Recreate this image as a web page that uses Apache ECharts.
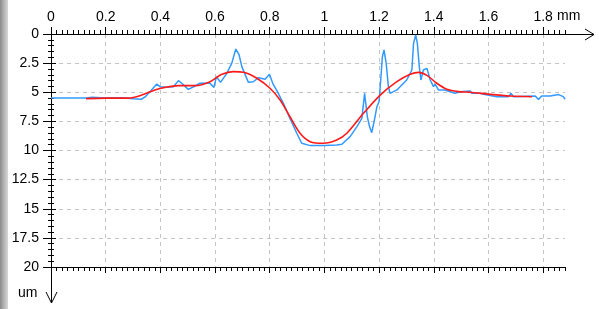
<!DOCTYPE html>
<html lang="en">
<head>
    <meta charset="UTF-8">
    <title>Profile</title>
    <script src="https://cdn.jsdelivr.net/npm/echarts@6/dist/echarts.min.js"></script>
    <style type="text/css">
        html, body { margin: 0; padding: 0; background: #fff; }
        #main { width: 599px; height: 309px; }
    </style>
</head>
<body>
<div id="main"></div>
<script type="text/javascript">
    // measured profile (blue), x in mm, depth in um
    var profileX = [0, 0.1, 0.13, 0.15, 0.2, 0.26, 0.3, 0.33, 0.344, 0.362, 0.387, 0.399, 0.417, 0.448, 0.466, 0.478,
        0.502, 0.52, 0.545, 0.58, 0.596, 0.605, 0.62, 0.643, 0.661, 0.676, 0.688, 0.698, 0.722, 0.74, 0.759, 0.783,
        0.799, 0.811, 0.828, 0.85, 0.874, 0.899, 0.917, 0.948, 1.0, 1.045, 1.064, 1.094, 1.119, 1.137, 1.147, 1.152,
        1.157, 1.165, 1.173, 1.183, 1.192, 1.2, 1.206, 1.212, 1.218, 1.226, 1.234, 1.24, 1.265, 1.301, 1.32, 1.326,
        1.334, 1.34, 1.347, 1.353, 1.362, 1.375, 1.387, 1.399, 1.405, 1.417, 1.44, 1.46, 1.478, 1.496, 1.533, 1.539,
        1.57, 1.582, 1.631, 1.674, 1.682, 1.692, 1.771, 1.783, 1.795, 1.826, 1.856, 1.874, 1.88];
    var profileY = [5.5, 5.5, 5.5, 5.42, 5.5, 5.47, 5.55, 5.6, 5.4, 4.95, 4.3, 4.52, 4.58, 4.52, 4.0, 4.23,
        4.75, 4.55, 4.23, 4.2, 4.58, 3.66, 4.15, 3.38, 2.52, 1.29, 1.8, 2.8, 4.15, 4.1, 3.75, 3.89,
        3.46, 4.23, 4.95, 5.95, 7.24, 8.52, 9.38, 9.58, 9.58, 9.53, 9.47, 8.81, 7.95, 7.24, 5.09, 5.2,
        7.1, 7.95, 8.47, 7.38, 6.24, 5.8, 3.95, 1.95, 1.37, 2.52, 4.52, 5.09, 4.8, 3.95, 3.09, 0.8,
        0.09, 0.8, 2.8, 3.95, 3.09, 2.95, 3.95, 4.52, 4.3, 4.8, 4.8, 4.95, 5.09, 4.95, 4.89, 5.09,
        5.09, 5.18, 5.38, 5.38, 5.09, 5.38, 5.32, 5.61, 5.32, 5.32, 5.2, 5.38, 5.6];

    // fitted curve (red)
    var fitX = [0.128, 0.2, 0.283, 0.332, 0.38, 0.417, 0.466, 0.527, 0.582, 0.625, 0.667, 0.704, 0.753, 0.801,
        0.838, 0.874, 0.911, 0.948, 0.996, 1.045, 1.082, 1.143, 1.204, 1.265, 1.314, 1.344, 1.375, 1.411, 1.448,
        1.49, 1.533, 1.606, 1.68, 1.759];
    var fitY = [5.55, 5.5, 5.5, 5.24, 4.8, 4.58, 4.43, 4.43, 4.09, 3.46, 3.23, 3.28, 3.8, 4.66,
        5.67, 7.1, 8.52, 9.24, 9.38, 9.1, 8.52, 6.81, 5.24, 4.09, 3.46, 3.29, 3.55, 4.23, 4.75,
        4.95, 5.0, 5.18, 5.32, 5.38];

    // tick labels
    var xTicks = [0, 0.2, 0.4, 0.6, 0.8, 1, 1.2, 1.4, 1.6, 1.8];
    var xMax = 1.88;
    var yMin = 0, yMax = 20, yStep = 2.5;

    function zip(a, b) {
        var out = [];
        for (var i = 0; i < a.length; i++) out.push([a[i], b[i]]);
        return out;
    }

    var black = '#000';
    var font = {color: '#000', fontFamily: 'Liberation Sans', fontSize: 14};

    var myChart = echarts.init(document.getElementById('main'), null, {renderer: 'canvas'});

    var option = {
        animation: false,
        backgroundColor: '#fff',
        grid: {left: 51, top: 34, width: 514, height: 233},
        xAxis: [
            {   // top, labels + major ticks + grid
                type: 'value', position: 'top', min: 0, max: xMax, interval: 0.2,
                axisLine: {show: true, lineStyle: {color: black, width: 1}},
                axisTick: {show: true, length: 7, customValues: xTicks, lineStyle: {color: black}},
                axisLabel: {show: true, customValues: xTicks, margin: 10, color: font.color,
                    fontFamily: font.fontFamily, fontSize: font.fontSize},
                splitLine: {show: true, lineStyle: {color: '#c4c4c4', type: [4, 4], width: 1}}
            },
            {   // top minor ticks
                type: 'value', position: 'top', min: 0, max: xMax, interval: 0.02,
                axisLine: {show: false},
                axisTick: {show: true, length: 4, lineStyle: {color: black}},
                axisLabel: {show: false},
                splitLine: {show: false}
            },
            {   // bottom major ticks
                type: 'value', position: 'bottom', min: 0, max: xMax, interval: 0.2,
                axisLine: {show: true, lineStyle: {color: black, width: 1}},
                axisTick: {show: true, length: 6, customValues: xTicks, lineStyle: {color: black}},
                axisLabel: {show: false},
                splitLine: {show: false}
            },
            {   // bottom minor ticks
                type: 'value', position: 'bottom', min: 0, max: xMax, interval: 0.02,
                axisLine: {show: false},
                axisTick: {show: true, length: 4, lineStyle: {color: black}},
                axisLabel: {show: false},
                splitLine: {show: false}
            }
        ],
        yAxis: [
            {
                type: 'value', position: 'left', inverse: true, min: yMin, max: yMax, interval: yStep,
                axisLine: {show: true, lineStyle: {color: black, width: 1}},
                axisTick: {show: true, length: 8, lineStyle: {color: black}},
                minorTick: {show: true, splitNumber: 5, length: 3, lineStyle: {color: black}},
                axisLabel: {show: true, margin: 12, color: font.color,
                    fontFamily: font.fontFamily, fontSize: font.fontSize},
                splitLine: {show: true, lineStyle: {color: '#c4c4c4', type: [4, 4], width: 1}}
            },
            {
                type: 'value', position: 'right', inverse: true, min: yMin, max: yMax, interval: yStep,
                axisLine: {show: true, lineStyle: {color: black, width: 1}},
                axisTick: {show: true, length: 5, lineStyle: {color: black}},
                minorTick: {show: true, splitNumber: 5, length: 3, lineStyle: {color: black}},
                axisLabel: {show: false},
                splitLine: {show: false}
            }
        ],
        graphic: [
            // grey strip on the left edge of the screenshot
            {type: 'rect', left: 0, top: 0, shape: {width: 8, height: 309}, silent: true,
                style: {fill: new echarts.graphic.LinearGradient(0, 0, 1, 0, [
                    {offset: 0, color: '#8a8a8a'}, {offset: 0.5, color: '#b4b4b4'}, {offset: 1, color: '#d8d8d8'}])}},
            // x axis arrow
            {type: 'polyline', shape: {points: [[565, 34.5], [594, 34.5]]}, style: {stroke: black, lineWidth: 1}},
            {type: 'polyline', shape: {points: [[585, 29], [594, 34.5], [585, 40]]}, style: {stroke: black, fill: null, lineWidth: 1}},
            // y axis arrow
            {type: 'polyline', shape: {points: [[51.5, 267], [51.5, 303]]}, style: {stroke: black, lineWidth: 1}},
            {type: 'polyline', shape: {points: [[46, 292], [51.5, 303], [57, 292]]}, style: {stroke: black, fill: null, lineWidth: 1}},
            // units
            {type: 'text', left: 557, top: 9, style: {text: 'mm', fill: '#000', font: '14px "Liberation Sans"'}},
            {type: 'text', left: 18, top: 286, style: {text: 'um', fill: '#000', font: '14px "Liberation Sans"'}}
        ],
        series: [
            {
                name: 'profile', type: 'line', xAxisIndex: 0, yAxisIndex: 0,
                data: zip(profileX, profileY),
                showSymbol: false,
                lineStyle: {color: '#3399ff', width: 1.5},
                z: 2
            },
            {
                name: 'fit', type: 'line', xAxisIndex: 0, yAxisIndex: 0,
                data: zip(fitX, fitY),
                smooth: 0.3,
                showSymbol: false,
                lineStyle: {color: '#ff1a1a', width: 1.6},
                z: 3
            }
        ]
    };

    myChart.setOption(option);
</script>
</body>
</html>
